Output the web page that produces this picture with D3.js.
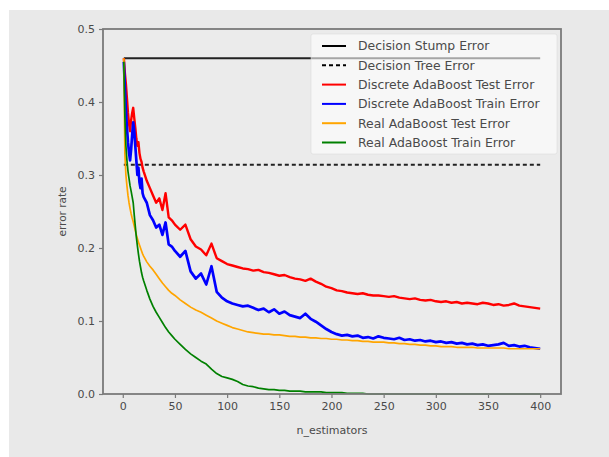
<!DOCTYPE html>
<html>
<head>
<meta charset="utf-8">
<script src="https://cdn.jsdelivr.net/npm/d3@7"></script>
<style>
  html, body { margin: 0; padding: 0; background: #ffffff; }
  svg { display: block; font-family: "DejaVu Sans", sans-serif; }
</style>
</head>
<body>
<svg id="chart" width="609" height="457"></svg>
<script>
// Boosting iterations at which the error rates are sampled
const nEstimators = [
  1,2,3,4,5,6,7,8,9,10,11,12,13,14,15,16,17,18,19,20,
  23,26,29,32,35,38,41,44,47,50,
  55,60,65,70,75,80,85,90,95,100,105,110,115,120,125,130,135,140,145,150,
  155,160,165,170,175,180,185,190,195,200,205,210,215,220,225,230,235,240,245,250,
  255,260,265,270,275,280,285,290,295,300,305,310,315,320,325,330,335,340,345,350,
  355,360,365,370,375,380,385,390,395,400
];

// Single-stump and full-tree baselines
const stumpError = 0.46;
const treeError = 0.314;

const discreteTestError = [
  0.460,0.440,0.425,0.405,0.385,0.370,0.360,0.375,0.385,0.392,0.378,0.365,0.350,0.340,0.345,0.330,0.322,0.318,0.310,0.305,
  0.292,0.282,0.272,0.262,0.268,0.252,0.275,0.242,0.238,0.232,
  0.225,0.232,0.212,0.202,0.198,0.190,0.206,0.186,0.182,0.178,0.176,0.174,0.172,0.171,0.169,0.170,0.167,0.166,0.164,0.162,
  0.163,0.160,0.158,0.157,0.155,0.158,0.154,0.151,0.147,0.145,0.142,0.141,0.139,0.138,0.137,0.138,0.136,0.135,0.135,0.134,
  0.133,0.134,0.132,0.131,0.130,0.131,0.129,0.128,0.129,0.127,0.126,0.127,0.125,0.126,0.124,0.125,0.124,0.123,0.125,0.124,
  0.122,0.123,0.121,0.122,0.124,0.121,0.120,0.119,0.118,0.117
];

const discreteTrainError = [
  0.455,0.420,0.390,0.365,0.345,0.330,0.320,0.335,0.355,0.372,0.360,0.340,0.320,0.300,0.310,0.290,0.282,0.295,0.275,0.270,
  0.262,0.245,0.238,0.228,0.232,0.218,0.235,0.205,0.202,0.196,
  0.188,0.196,0.168,0.158,0.165,0.150,0.175,0.140,0.132,0.127,0.124,0.122,0.120,0.121,0.118,0.115,0.117,0.112,0.116,0.110,
  0.113,0.108,0.106,0.104,0.110,0.103,0.099,0.094,0.089,0.085,0.082,0.080,0.081,0.079,0.080,0.077,0.078,0.076,0.079,0.077,
  0.076,0.075,0.077,0.074,0.075,0.073,0.074,0.072,0.073,0.071,0.072,0.070,0.071,0.069,0.070,0.068,0.069,0.067,0.068,0.066,
  0.067,0.068,0.070,0.066,0.067,0.065,0.066,0.064,0.063,0.062
];

const realTestError = [
  0.460,0.330,0.300,0.285,0.272,0.262,0.254,0.247,0.241,0.236,0.230,0.224,0.218,0.213,0.208,0.204,0.200,0.196,0.192,0.189,
  0.181,0.175,0.170,0.164,0.158,0.152,0.147,0.142,0.138,0.135,
  0.129,0.124,0.119,0.115,0.112,0.108,0.104,0.100,0.097,0.094,0.091,0.089,0.087,0.085,0.084,0.083,0.082,0.082,0.081,0.081,
  0.080,0.079,0.079,0.078,0.078,0.077,0.077,0.076,0.076,0.075,0.075,0.074,0.074,0.073,0.073,0.072,0.072,0.071,0.071,0.071,
  0.070,0.070,0.069,0.069,0.068,0.068,0.067,0.067,0.066,0.066,0.065,0.065,0.065,0.064,0.064,0.064,0.064,0.063,0.063,0.063,
  0.063,0.063,0.063,0.062,0.062,0.062,0.062,0.062,0.062,0.062
];

const realTrainError = [
  0.455,0.380,0.340,0.320,0.305,0.295,0.285,0.278,0.270,0.262,0.245,0.230,0.215,0.203,0.192,0.182,0.174,0.166,0.160,0.155,
  0.142,0.130,0.120,0.112,0.105,0.098,0.091,0.085,0.080,0.075,
  0.068,0.061,0.055,0.050,0.045,0.041,0.034,0.028,0.024,0.022,0.020,0.017,0.013,0.011,0.010,0.008,0.007,0.006,0.006,0.005,
  0.005,0.004,0.004,0.004,0.003,0.003,0.003,0.003,0.002,0.002,0.002,0.002,0.001,0.001,0.001,0.001,0.000,0.000,0.000,0.000,
  0.000,0.000,0.000,0.000,0.000,0.000,0.000,0.000,0.000,0.000,0.000,0.000,0.000,0.000,0.000,0.000,0.000,0.000,0.000,0.000,
  0.000,0.000,0.000,0.000,0.000,0.000,0.000,0.000,0.000,0.000
];

const xTicks = [0, 50, 100, 150, 200, 250, 300, 350, 400];
const yTicks = [0.0, 0.1, 0.2, 0.3, 0.4, 0.5];

const legendLabels = [
  "Decision Stump Error",
  "Decision Tree Error",
  "Discrete AdaBoost Test Error",
  "Discrete AdaBoost Train Error",
  "Real AdaBoost Test Error",
  "Real AdaBoost Train Error"
];
const seriesColors = ["#000000", "#000000", "red", "blue", "orange", "green"];

const svg = d3.select("#chart");
const W = 609, H = 457;

// page background: gray canvas with a thin white edge on top and left
svg.append("rect").attr("width", W).attr("height", H).attr("fill", "#ffffff");
svg.append("rect").attr("x", 9).attr("y", 10).attr("width", W - 9).attr("height", H - 10).attr("fill", "#e9e9e9");

const plot = { left: 103, right: 561, top: 29, bottom: 394 };

const x = d3.scaleLinear().domain([-18.95, 419.95]).range([plot.left, plot.right]);
const y = d3.scaleLinear().domain([0, 0.5]).range([plot.bottom, plot.top]);

const g = svg.append("g");

g.append("rect")
  .attr("x", plot.left).attr("y", plot.top)
  .attr("width", plot.right - plot.left).attr("height", plot.bottom - plot.top)
  .attr("fill", "#ebebeb");

// baselines
g.append("line")
  .attr("x1", x(1)).attr("x2", x(400))
  .attr("y1", y(stumpError)).attr("y2", y(stumpError))
  .attr("stroke", "#222").attr("stroke-width", 2);

g.append("line")
  .attr("x1", x(1)).attr("x2", x(400))
  .attr("y1", y(treeError)).attr("y2", y(treeError))
  .attr("stroke", "#222").attr("stroke-width", 2)
  .attr("stroke-dasharray", "4,3");

const line = d3.line().x((d, i) => x(nEstimators[i])).y(d => y(d));

const curves = [
  { values: discreteTestError, color: "red", width: 2.4 },
  { values: discreteTrainError, color: "blue", width: 2.7 },
  { values: realTestError, color: "orange", width: 1.7 },
  { values: realTrainError, color: "green", width: 1.7 }
];

curves.forEach(c => {
  g.append("path")
    .datum(c.values)
    .attr("d", line)
    .attr("fill", "none")
    .attr("stroke", c.color)
    .attr("stroke-width", c.width)
    .attr("stroke-linejoin", "round");
});

// axes
const axisColor = "#7a7a7a";
const textColor = "#4a4a4a";

const xAxis = g.append("g")
  .attr("transform", `translate(0,${plot.bottom})`)
  .call(d3.axisBottom(x).tickValues(xTicks).tickFormat(d3.format("d")).tickSize(4).tickPadding(4));

const yAxis = g.append("g")
  .attr("transform", `translate(${plot.left},0)`)
  .call(d3.axisLeft(y).tickValues(yTicks).tickFormat(d3.format(".1f")).tickSize(4).tickPadding(4));

[xAxis, yAxis].forEach(a => {
  a.select(".domain").remove();
  a.selectAll(".tick line").attr("stroke", axisColor).attr("stroke-width", 1.2);
  a.selectAll(".tick text")
    .attr("fill", textColor)
    .style("font-size", "11px")
    .style("font-family", "'DejaVu Sans', sans-serif");
});

// frame around the plotting area
g.append("rect")
  .attr("x", plot.left).attr("y", plot.top)
  .attr("width", plot.right - plot.left).attr("height", plot.bottom - plot.top)
  .attr("fill", "none").attr("stroke", axisColor).attr("stroke-width", 1.8);

// axis titles
svg.append("text")
  .attr("x", (plot.left + plot.right) / 2).attr("y", 434)
  .attr("text-anchor", "middle")
  .attr("fill", textColor)
  .style("font-size", "11px")
  .text("n_estimators");

svg.append("text")
  .attr("transform", `translate(66,${(plot.top + plot.bottom) / 2}) rotate(-90)`)
  .attr("text-anchor", "middle")
  .attr("fill", textColor)
  .style("font-size", "10.5px")
  .text("error rate");

// legend, upper right, translucent box
const legend = svg.append("g").attr("transform", "translate(311,34)");
legend.append("rect")
  .attr("x", 0).attr("y", 0).attr("width", 246).attr("height", 120)
  .attr("rx", 2)
  .attr("fill", "#ffffff").attr("fill-opacity", 0.6)
  .attr("stroke", "#d8d8d8").attr("stroke-opacity", 0.5);

const rowH = 19.3;
legendLabels.forEach((label, i) => {
  const ry = 12 + i * rowH;
  legend.append("line")
    .attr("x1", 11).attr("x2", 35)
    .attr("y1", ry).attr("y2", ry)
    .attr("stroke", seriesColors[i])
    .attr("stroke-width", 2)
    .attr("stroke-dasharray", i === 1 ? "4,3" : null);
  legend.append("text")
    .attr("x", 47).attr("y", ry + 4.3)
    .attr("fill", textColor)
    .style("font-size", "12.4px")
    .text(label);
});
</script>
</body>
</html>
